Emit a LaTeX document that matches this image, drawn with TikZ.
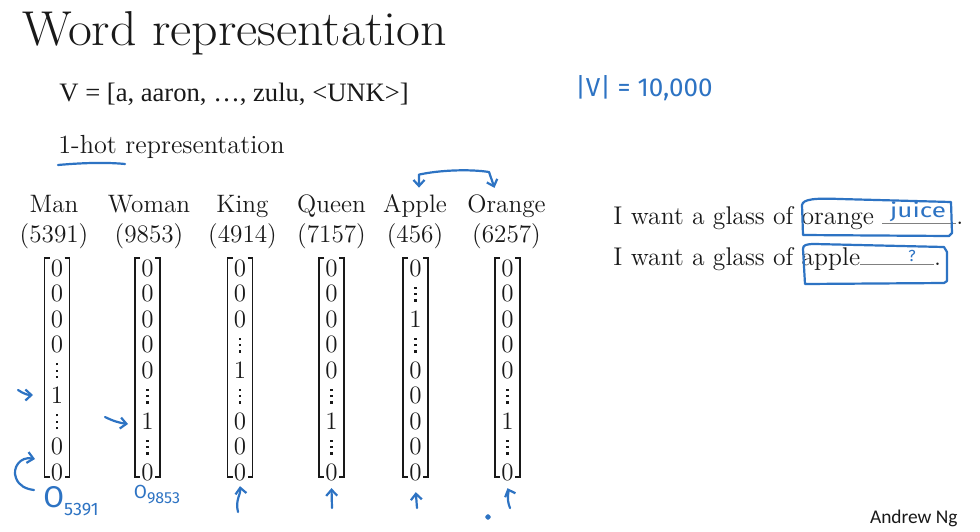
\documentclass[tikz,border=0pt]{standalone}
\usepackage{fontspec}
\usetikzlibrary{arrows.meta}
\newfontfamily\timesf{Liberation Serif}
\newfontfamily\hand{Fira Sans}
\newfontfamily\calib{Carlito}
\definecolor{pen}{RGB}{45,115,195}
\definecolor{ink}{RGB}{25,25,25}
\renewcommand{\arraystretch}{0.85}
\newcommand{\vdot}{\hbox{\rule{1.1pt}{1.1pt}}}
\newcommand{\vd}{\vbox{\vdot\kern2.1pt\vdot\kern2.1pt\vdot}}
\newcommand{\onehot}[3]{%
  \node[vec] (#1) at (#2,373) {\begin{tabular}{@{}c@{}}#3\end{tabular}};
  \draw[brk] ({#2-7.5},258) -- ({#2-12.5},258) -- ({#2-12.5},477) -- ({#2-7.5},477);
  \draw[brk] ({#2+7.5},258) -- ({#2+12.5},258) -- ({#2+12.5},477) -- ({#2+7.5},477);
}
\begin{document}
\begin{tikzpicture}[x=0.5pt,y=-0.5pt,
  every node/.style={text=ink},
  lbl/.style={font=\fontsize{12.6}{15}\selectfont, inner sep=0pt, anchor=base},
  vec/.style={font=\fontsize{12.5}{15}\selectfont, inner sep=0pt},
  brk/.style={draw=ink, line width=0.8pt},
  pen/.style={draw=pen, line width=1.1pt, line cap=round, line join=round},
  barb/.tip={Straight Barb[length=3pt,width=5.5pt]},
  penarr/.style={pen, -barb},
  handtxt/.style={text=pen, inner sep=0pt}]
\fill[white] (0,0) rectangle (980,531);
\useasboundingbox (0,0) rectangle (980,531);

% texts
\node[anchor=base west, inner sep=0pt, font=\fontsize{24.5}{28}\selectfont] (title) at (22,45) {\scalebox{1.06}[1]{Word representation}};
\node[anchor=base west, inner sep=0pt, font=\timesf\fontsize{13.3}{16}\selectfont] (vocab) at (59,101) {V = [a, aaron, …, zulu, <UNK>]};
\node[anchor=base west, inner sep=0pt, font=\fontsize{13.1}{15}\selectfont] (hot) at (58,153) {1-hot representation};
\draw[pen] (58,165) .. controls (80,163) and (105,162) .. (125,164);

\node[handtxt, anchor=base west, font=\hand\fontsize{13}{15}\selectfont] (vsize) at (575,96) {|V| = 10,000};

% labels
\node[lbl] (wman) at (54,212) {Man};       \node[lbl] (nman) at (54,242) {(5391)};
\node[lbl] (wwoman) at (149,212) {Woman};  \node[lbl] (nwoman) at (149,242) {(9853)};
\node[lbl] (wking) at (242.5,212) {King};   \node[lbl] (nking) at (242.5,242) {(4914)};
\node[lbl] (wqueen) at (331.5,212) {Queen}; \node[lbl] (nqueen) at (331.5,242) {(7157)};
\node[lbl] (wapple) at (415,212) {Apple};   \node[lbl] (napple) at (415,242) {(456)};
\node[lbl] (worange) at (506.5,212) {Orange}; \node[lbl] (norange) at (506.5,242) {(6257)};

% vectors
\onehot{m1}{57}{0\\0\\0\\0\\\vd\\1\\\vd\\0\\0}
\onehot{m2}{147.5}{0\\0\\0\\0\\0\\\vd\\1\\\vd\\0}
\onehot{m3}{240}{0\\0\\0\\\vd\\1\\\vd\\0\\0\\0}
\onehot{m4}{331.5}{0\\0\\0\\0\\0\\\vd\\1\\\vd\\0}
\onehot{m5}{415.5}{0\\\vd\\1\\\vd\\0\\0\\0\\0\\0}
\onehot{m6}{507.5}{0\\0\\0\\0\\0\\\vd\\1\\\vd\\0}

% Apple <-> Orange
\draw[pen, barb-barb] ([xshift=2pt,yshift=3pt]wapple.north) -- ++(0,-13)
   .. controls (440,170) and (470,169) .. (489,172) -- ([xshift=-6pt,yshift=3pt]worange.north);

% left pointers
\coordinate (p1s) at (18,390); \coordinate (p1e) at (33,395);
\draw[penarr] (p1s) .. controls (24,394) and (28,395) .. (p1e);
\coordinate (p2s) at (105,417); \coordinate (p2e) at (128,424);
\draw[penarr] (p2s) .. controls (113,421) and (120,423) .. (p2e);
\coordinate (hk1) at (35,459); \coordinate (hk2) at (34,490);
\draw[pen, barb-] (hk1) .. controls (20,456) and (12,468) .. (16,478) .. controls (19,486) and (26,489) .. (hk2);

% O labels
\node[handtxt, font=\hand] (o1) at (71,501) {{\fontsize{15}{18}\selectfont O}\raisebox{-4pt}{\fontsize{9}{10}\selectfont 5391}};
\node[handtxt, font=\hand] (o2) at (157,495) {{\fontsize{9.5}{11}\selectfont O}\raisebox{-2.5pt}{\fontsize{8}{9}\selectfont 9853}};

% up arrows
\coordinate (a3) at (238,512); \coordinate (a4) at (332,508);
\coordinate (a5) at (417,508); \coordinate (a6) at (510,508);
\draw[penarr] (a3) .. controls (235,500) and (241,494) .. ([yshift=1pt]m3.south);
\draw[penarr] (a4) -- (m4.south);
\draw[penarr, shorten >=2pt] (a5) -- (m5.south);
\draw[penarr] (a6) .. controls (506,498) and (509,492) .. (m6.south);
\fill[pen] (488,517) circle (0.9pt);

% sentences
\node[anchor=base west, inner sep=0pt, font=\fontsize{12.8}{15}\selectfont] (s1) at (613,224) {I want a glass of orange \textcolor{gray}{\rule{37pt}{0.6pt}}.};
\node[anchor=base west, inner sep=0pt, font=\fontsize{12.8}{15}\selectfont] (s2) at (613,265) {I want a glass of apple\textcolor{gray}{\rule{37pt}{0.6pt}}.};
\draw[pen] (803,235) -- (802,205) .. controls (803,199) and (815,198) .. (840,199) -- (951,202) -- (952,233) -- (949,236) -- cycle;
\draw[pen] (805,284) -- (803,249) .. controls (803,245) and (806,244) .. (815,244) -- (944,247) -- (947,252) -- (947,281) -- (944,283) -- cycle;
\node[handtxt, font=\hand\fontsize{10}{12}\selectfont] (juice) at (918,212) {\scalebox{1.3}[1]{juice}};
\node[handtxt, font=\hand\fontsize{8}{10}\selectfont] (q) at (912,256) {?};

\node[anchor=base east, inner sep=0pt, font=\calib\fontsize{9.7}{12}\selectfont] (author) at (958,523) {Andrew Ng};
\end{tikzpicture}
\end{document}
